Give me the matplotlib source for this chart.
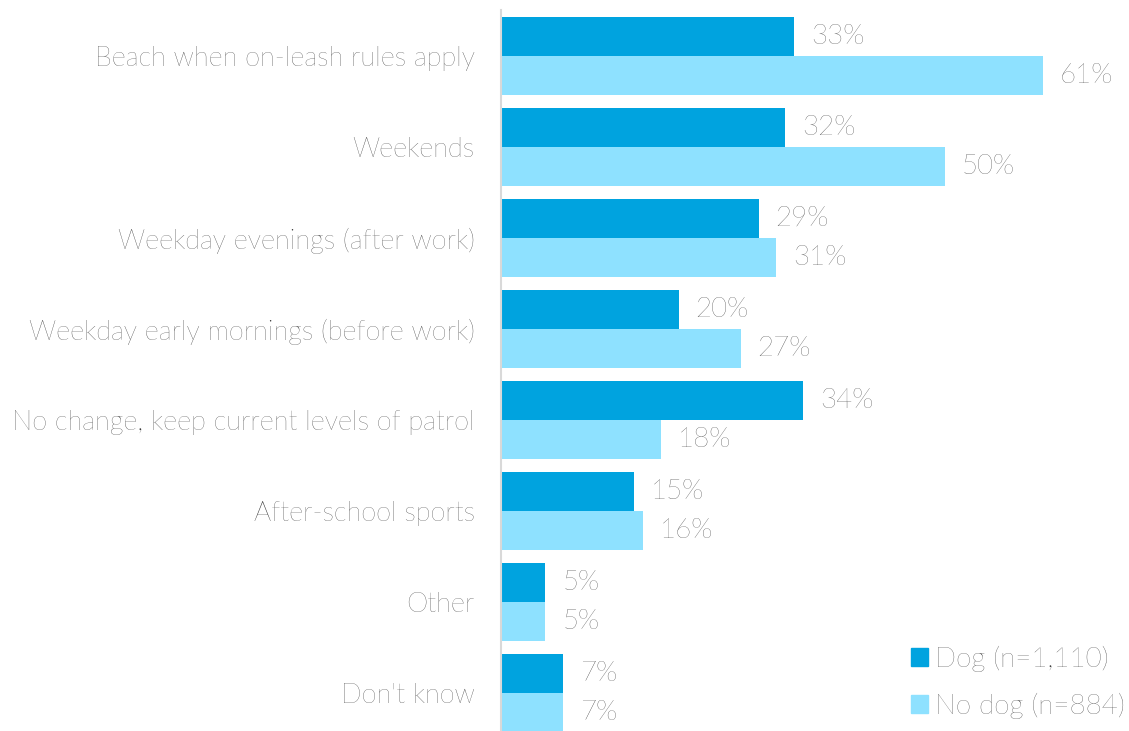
import matplotlib.pyplot as plt
from matplotlib.patches import Patch
import numpy as np

categories = [
    "Beach when on-leash rules apply",
    "Weekends",
    "Weekday evenings (after work)",
    "Weekday early mornings (before work)",
    "No change, keep current levels of patrol",
    "After-school sports",
    "Other",
    "Don't know",
]
dog = [33, 32, 29, 20, 34, 15, 5, 7]
no_dog = [61, 50, 31, 27, 18, 16, 5, 7]
series_labels = ["Dog (n=1,110)", "No dog (n=884)"]

dog_color = '#00A3DF'
no_dog_color = '#8EE1FF'
text_color = '#2e2e2e'

plt.rcParams['font.family'] = ['Lato', 'DejaVu Sans']
plt.rcParams['font.weight'] = 'light'

W, H = 1129, 731
fig = plt.figure(figsize=(W / 100, H / 100), dpi=100)
ax = fig.add_axes([501 / W, 0, 1 - 501 / W, (H - 10) / H])

y = np.arange(len(categories))
h = 0.43
ax.barh(y - h / 2, dog, height=h, color=dog_color)
ax.barh(y + h / 2, no_dog, height=h, color=no_dog_color)

# value labels just past the end of each bar
for yi, v in zip(y, dog):
    ax.text(v + 1.9, yi - h / 2, f"{v}%", va='center', ha='left',
            fontsize=20, color=text_color)
for yi, v in zip(y, no_dog):
    ax.text(v + 1.9, yi + h / 2, f"{v}%", va='center', ha='left',
            fontsize=20, color=text_color)

ax.set_xlim(0, 628 / 8.88)
ax.set_ylim(7.418, -0.505)
ax.set_yticks(y)
ax.set_yticklabels(categories, fontsize=19.5, color=text_color)
ax.tick_params(axis='y', length=0, pad=19)
ax.set_xticks([])

for s in ['top', 'right', 'bottom']:
    ax.spines[s].set_visible(False)
ax.spines['left'].set_color('#d9d9d9')
ax.spines['left'].set_linewidth(1.5)

handles = [Patch(color=dog_color), Patch(color=no_dog_color)]
fig.legend(handles, series_labels, loc='lower left',
           bbox_to_anchor=(911 / W, 12 / H), frameon=False,
           fontsize=20, labelcolor=text_color,
           handlelength=0.6, handleheight=0.6, handletextpad=0.25,
           labelspacing=0.75, borderpad=0, borderaxespad=0)

fig.savefig('out.png', dpi=100)
